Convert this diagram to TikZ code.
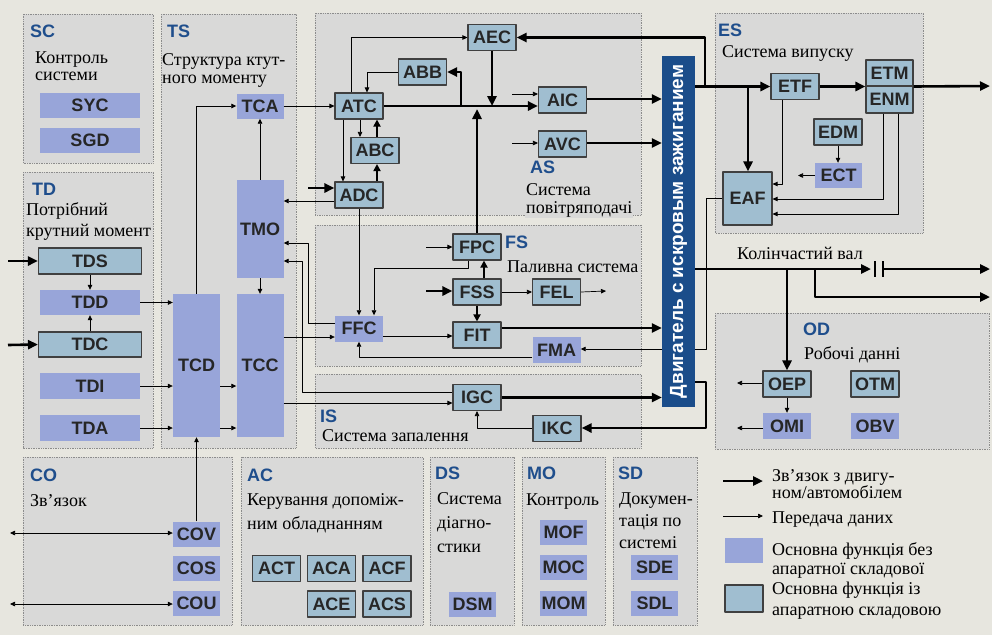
\documentclass[tikz,border=0pt]{standalone}
\usepackage{fontspec}
\setmainfont{Liberation Serif}
\setsansfont{Liberation Sans}
\usetikzlibrary{arrows.meta}
\definecolor{bgc}{HTML}{E7E6DF}
\definecolor{panelc}{HTML}{D9D9D8}
\definecolor{fnc}{HTML}{98A5D9}
\definecolor{hwc}{HTML}{A0BED0}
\definecolor{codec}{HTML}{1F4E8C}
\definecolor{engc}{HTML}{1B4D8A}
\begin{document}
\begin{tikzpicture}[x=1pt,y=-1pt,line join=round,
 box/.style={fill=fnc,minimum width=48,minimum height=26,inner sep=0,font=\sffamily\bfseries\fontsize{18}{18}\selectfont,text=black!85},
 hwbox/.style={box,fill=hwc,draw=black!75,line width=1.1pt},
 panel/.style={fill=panelc,draw=black!45,densely dotted,line width=.7pt},
 code/.style={anchor=base west,inner sep=0,font=\sffamily\bfseries\fontsize{18}{18}\selectfont,text=codec},
 txt/.style={anchor=base west,inner sep=0,align=left,font=\fontsize{18}{19}\selectfont},
 dat/.style={line width=.7pt,-{Triangle[length=5pt,width=4.5pt]}},
 both/.style={line width=.7pt,{Triangle[length=5pt,width=4.5pt]}-{Triangle[length=5pt,width=4.5pt]}},
 mid/.style={line width=1.8pt,-{Triangle[length=7pt,width=7pt]}},
 mech/.style={line width=2.6pt,-{Triangle[length=10pt,width=9pt]}}]
 \fill[bgc] (0,0) rectangle (992,635);
 \draw[panel] (23,14) rectangle (153,163) (23,172) rectangle (153,448) (161,14) rectangle (296,448)
  (315,13) rectangle (641,215) (315,225) rectangle (641,366) (315,374) rectangle (641,448)
  (715,13) rectangle (923,233) (715,313) rectangle (989,449)
  (23,457) rectangle (232,625) (241,457) rectangle (423,625) (430,457) rectangle (514,625)
  (522,457) rectangle (605,625) (613,457) rectangle (697,625);
 \path (30,37) node[code] (lSC) {SC} (167,37) node[code] (lTS) {TS} (32,195) node[code] (lTD) {TD}
  (530,173) node[code] (lAS) {AS} (505,248) node[code] (lFS) {FS} (320,422) node[code] (lIS) {IS}
  (718,36) node[code] (lES) {ES} (803,335) node[code] (lOD) {OD}
  (30,481) node[code] (lCO) {CO} (247,481) node[code] (lAC) {AC} (435,479) node[code] (lDS) {DS}
  (527,479) node[code] (lMO) {MO} (618,479) node[code] (lSD) {SD};
 \path (35,80) node[txt,font=\fontsize{18}{17}\selectfont] (tSC) {Контроль\\системи}
  (162,83) node[txt,font=\fontsize{18}{18}\selectfont] (tTS) {Структура ктут-\\ного моменту}
  (26,236) node[txt,font=\fontsize{18}{21}\selectfont] (tTD) {Потрібний\\крутний момент}
  (525,213) node[txt,fill=panelc,inner sep=1,font=\fontsize{18}{18}\selectfont] (tAS) {Система\\повітряподачі}
  (507,272) node[txt] (tFS) {Паливна система}
  (322,441) node[txt] (tIS) {Система запалення}
  (722,57) node[txt] (tES) {Система випуску}
  (804,359) node[txt] (tOD) {Робочі данні}
  (30,506) node[txt] (tCO) {Зв'язок}
  (247,529) node[txt,font=\fontsize{18}{24}\selectfont] (tAC) {Керування допоміж-\\ним обладнанням}
  (437,552) node[txt,font=\fontsize{18}{24}\selectfont] (tDS) {Система\\діагно-\\стики}
  (526,505) node[txt] (tMO) {Контроль}
  (619,548) node[txt,font=\fontsize{18}{22}\selectfont] (tSD) {Докумен-\\тація по\\системі}
  (737,259) node[txt] (tKV) {Колінчастий вал};
 \path (90,105.5) node[box,minimum width=100,minimum height=25] (SYC) {SYC}
  (90,140.5) node[box,minimum width=100,minimum height=25] (SGD) {SGD}
  (90,261) node[hwbox,minimum width=103] (TDS) {TDS}
  (90,302.5) node[box,minimum width=100,minimum height=25] (TDD) {TDD}
  (90,344.5) node[hwbox,minimum width=103,minimum height=25] (TDC) {TDC}
  (90,386) node[box,minimum width=100] (TDI) {TDI}
  (90,428) node[box,minimum width=100] (TDA) {TDA}
  (260,106) node[box,minimum width=47,minimum height=25] (TCA) {TCA}
  (260,229) node[box,minimum width=47,minimum height=98] (TMO) {TMO}
  (196.5,365.5) node[box,minimum width=47,minimum height=143] (TCD) {TCD}
  (260,365.5) node[box,minimum width=47,minimum height=143] (TCC) {TCC};
 \path (359,106) node[hwbox] (ATC) {ATC} (492,37.5) node[hwbox] (AEC) {AEC}
  (422.5,72) node[hwbox] (ABB) {ABB} (562.5,100) node[hwbox] (AIC) {AIC}
  (562.5,144) node[hwbox] (AVC) {AVC} (375,150.5) node[hwbox] (ABC) {ABC}
  (359,195) node[hwbox] (ADC) {ADC};
 \path (477,247) node[hwbox] (FPC) {FPC} (477,292) node[hwbox] (FSS) {FSS}
  (556.5,292) node[hwbox] (FEL) {FEL} (359,328.5) node[box] (FFC) {FFC}
  (477,335) node[hwbox] (FIT) {FIT} (556.5,350) node[box] (FMA) {FMA}
  (477,397.5) node[hwbox] (IGC) {IGC} (557,428.5) node[hwbox] (IKC) {IKC};
 \path (795,86.5) node[hwbox] (ETF) {ETF} (889.5,73) node[hwbox,minimum width=47] (ETM) {ETM}
  (889.5,99.5) node[hwbox,minimum width=47,minimum height=27] (ENM) {ENM}
  (838,132) node[hwbox] (EDM) {EDM} (838.5,175.5) node[box,minimum width=47,minimum height=25] (ECT) {ECT}
  (747.5,198.5) node[hwbox,minimum width=49,minimum height=53] (EAF) {EAF};
 \path (787,384) node[hwbox] (OEP) {OEP} (875,384) node[hwbox] (OTM) {OTM}
  (787,426) node[box] (OMI) {OMI} (875,426) node[box] (OBV) {OBV};
 \path (196.5,534) node[box,minimum width=47,minimum height=25] (COV) {COV}
  (196.5,568) node[box,minimum width=47,minimum height=25] (COS) {COS}
  (196.5,603) node[box,minimum width=47,minimum height=25] (COU) {COU};
 \path (276.5,568.5) node[hwbox] (ACT) {ACT} (331.5,568.5) node[hwbox] (ACA) {ACA}
  (387,568.5) node[hwbox] (ACF) {ACF} (331.5,604) node[hwbox] (ACE) {ACE}
  (387,604) node[hwbox] (ACS) {ACS};
 \path (472.5,604) node[box,minimum width=47,minimum height=25] (DSM) {DSM}
  (563.5,532.5) node[box,minimum width=47,minimum height=25] (MOF) {MOF}
  (563.5,567.5) node[box,minimum width=47,minimum height=25] (MOC) {MOC}
  (563.5,603) node[box,minimum width=47,minimum height=25] (MOM) {MOM}
  (654.5,567.5) node[box,minimum width=47,minimum height=25] (SDE) {SDE}
  (654.5,603) node[box,minimum width=47,minimum height=25] (SDL) {SDL};
 \coordinate (inTDS) at (8,261); \coordinate (inTDC) at (8,345); \coordinate (inADC) at (308,188);
 \coordinate (inAIC) at (512,94); \coordinate (inAVC) at (512,143); \coordinate (inFPC) at (426,247);
 \coordinate (inFSS) at (426,291); \coordinate (outFEL) at (606,291); \coordinate (outECT) at (798,175.5);
 \coordinate (outE) at (990,86); \coordinate (crkA) at (871,269); \coordinate (crkB) at (883,269);
 \coordinate (outC) at (990,269); \coordinate (outD) at (990,297); \coordinate (outOEP) at (737,383);
 \coordinate (outOMI) at (737,428); \coordinate (inCOV) at (10,533); \coordinate (inCOU) at (10,604);
 \coordinate (jABB) at (461,106); \coordinate (jAEC) at (705,86); \coordinate (jEAF) at (748,86);
 \coordinate (jFMA) at (706,349); \coordinate (jIKC) at (706,428); \coordinate (jOEP) at (787,269);
 \coordinate (jOUT) at (815,269); \coordinate (jFPC) at (374,268);
 \draw[dat] (EAF.west |- 0,198) -| (jFMA) -- (FMA.east |- jFMA);
 \node[fill=engc,minimum width=33,minimum height=351,inner sep=0] (ENG) at (678.5,231.5) {};
 \node[rotate=90,inner sep=0,text=white,font=\sffamily\bfseries\fontsize{19}{19}\selectfont] (ENGtxt) at (ENG.center) {Двигатель с искровым зажиганием};
 \draw[mech] (inTDS) -- (TDS.west);
 \draw[mech] (inTDC) -- (TDC.west);
 \draw[dat] (TDS) -- (TDD);
 \draw[dat] (TDC) -- (TDD);
 \draw[dat] (TDD.east) -- (TDD.east -| TCD.west);
 \draw[dat] (TDI.east) -- (TDI.east -| TCD.west);
 \draw[dat] (TDA.east) -- (TDA.east -| TCD.west);
 \draw[dat] (TCD.east |- TDI) -- (TCC.west |- TDI);
 \draw[dat] (TCD.east |- TDA) -- (TCC.west |- TDA);
 \draw[dat] (TCD.north) |- (TCA.west);
 \draw[dat] (TMO) -- (TCA);
 \draw[dat] (TMO) -- (TCC);
 \draw[dat] (COV) -- (TCD);
 \draw[dat] (TCA) -- (ATC);
 \draw[dat] (ADC.west |- 0,201) -- (TMO.east |- 0,201);
 \draw[mech] (inADC) -- (ADC.west |- inADC);
 \draw[dat] (FFC.west |- 0,323) -| (308,243) -- (TMO.east |- 0,243);
 \draw[dat] (IGC.west |- 0,392) -| (302,261) -- (TMO.east |- 0,261);
 \draw[dat] (TCC.east |- 0,337) -- (FFC.west |- 0,337);
 \draw[dat] (TCC.east |- 0,403) -- (IGC.west |- 0,403);
 \draw[dat] (ATC.south -| 343,0) -- (ADC.north -| 343,0);
 \draw[dat] (ATC.south -| 360,0) -- (ABC.north -| 360,0);
 \draw[mid] (ABC.north -| 377,0) -- (ATC.south -| 377,0);
 \draw[mid] (ADC.north -| 377,0) -- (ABC.south -| 377,0);
 \draw[dat] (ATC.north -| 351,0) |- (AEC.west);
 \draw[dat] (ABB.west) -| (ATC.north -| 367,0);
 \draw[mech] (ATC.east) -- (AIC.west |- ATC.east);
 \draw[mech] (jABB) |- (ABB.east);
 \draw[mech] (AEC.south) -- (AEC.south |- ATC.east);
 \draw[mech] (FPC.north) -- ([yshift=-3pt]FPC.north |- ATC.east);
 \draw[dat] (inAIC) -- (AIC.west |- inAIC);
 \draw[dat] (inAVC) -- (AVC.west |- inAVC);
 \draw[mech] (AIC.east |- 0,99) -- (ENG.west |- 0,99);
 \draw[mech] (AVC.east |- 0,143) -- (ENG.west |- 0,143);
 \draw[mech] (jAEC) |- (AEC.east);
 \draw[mech] (ENG.east |- ETF.west) -- (ETF.west);
 \draw[mech] (jEAF) -- (EAF.north -| jEAF);
 \draw[mech] (ETF.east) -- (ETF.east -| ETM.west);
 \draw[mech] (ETF.east -| ETM.east) -- (outE);
 \draw[dat] (ETF.south -| 782,0) |- (EAF.east |- 0,184);
 \draw[dat] (EDM.south) -- (EDM.south |- ECT.north);
 \draw[dat] (ECT.west) -- (outECT);
 \draw[dat] (ENM.south -| 883,0) |- (EAF.east |- 0,199);
 \draw[dat] (ENM.south -| 898,0) |- (EAF.east |- 0,214);
 \draw[dat] (inFPC) -- (FPC.west |- inFPC);
 \draw[mech] (inFSS) -- (FSS.west |- inFSS);
 \draw[dat] (FSS) -- (FEL);
 \draw[dat] (FEL.east) -- (outFEL);
 \draw[mid] (FSS.south) -- (FIT.north);
 \draw[mid] (FSS.north -| 484,0) -- (FPC.south -| 484,0);
 \draw[dat] (FPC.south -| 468,0) |- (jFPC) -- (FFC.north -| jFPC);
 \draw[dat] (ADC) -- (FFC);
 \draw[dat] (FFC.east |- 0,336) -- (FIT.west |- 0,336);
 \draw[mech] (FIT.east |- 0,328) -- (ENG.west |- 0,328);
 \draw[dat] (FMA.west |- 0,357) -| (FFC.south);
 \draw[mech] (IGC.east) -- (IGC.east -| ENG.west);
 \draw[mech] (ENG.east |- 0,382) -| (jIKC) -- (IKC.east |- jIKC);
 \draw[dat] (IKC.west) -| (IGC.south);
 \draw[mech] (ENG.east |- crkA) -- (crkA);
 \draw[line width=2.6pt] (875,261) -- (875,277) (883,261) -- (883,277);
 \draw[mech] (crkB) -- (outC);
 \draw[mech] (jOUT) |- (outD);
 \draw[mech] (jOEP) -- (OEP.north);
 \draw[dat] (OEP) -- (OMI);
 \draw[dat] (OEP.west |- outOEP) -- (outOEP);
 \draw[dat] (OMI.west |- outOMI) -- (outOMI);
 \draw[both] (inCOV) -- (COV.west |- inCOV);
 \draw[both] (inCOU) -- (COU.west |- inCOU);
 \coordinate (lgA) at (723,481); \coordinate (lgB) at (763,481);
 \coordinate (lgC) at (723,516); \coordinate (lgD) at (763,516);
 \draw[mech] (lgA) -- (lgB);
 \draw[dat] (lgC) -- (lgD);
 \node[box,minimum width=38,minimum height=25] (lgF) at (744,550) {};
 \node[hwbox,minimum width=38,minimum height=27] (lgH) at (744,598.5) {};
 \path (772,498) node[txt,font=\fontsize{18}{17}\selectfont] (tLA) {Зв'язок з двигу-\\ном/автомобілем}
  (772,523) node[txt] (tLB) {Передача даних}
  (772,574) node[txt] (tLC) {Основна функція без\\апаратної складової}
  (772,615) node[txt,font=\fontsize{18}{21}\selectfont] (tLD) {Основна функція із\\апаратною складовою};
\end{tikzpicture}
\end{document}
